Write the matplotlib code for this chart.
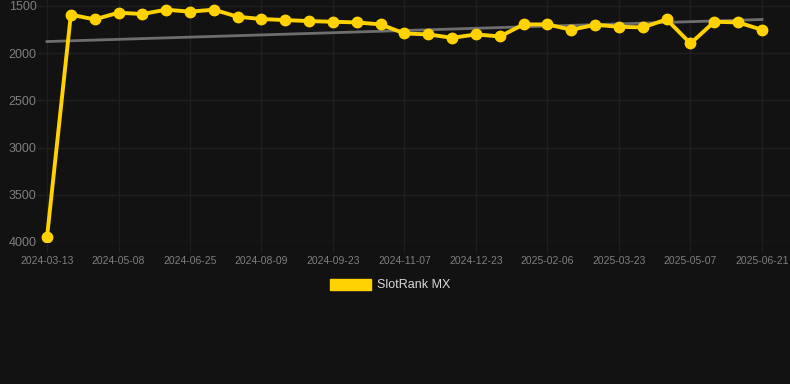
import numpy as np
import matplotlib
matplotlib.use('Agg')
import matplotlib.pyplot as plt
from matplotlib.patches import Patch

plt.rcParams['font.family'] = ['Liberation Sans', 'DejaVu Sans']

dates = ['2024-03-13', '2024-05-08', '2024-06-25', '2024-08-09', '2024-09-23',
         '2024-11-07', '2024-12-23', '2025-02-06', '2025-03-23', '2025-05-07',
         '2025-06-21']
rank = [3950, 1592, 1642, 1571, 1585, 1539, 1560, 1539, 1614, 1638, 1649,
        1660, 1667, 1674, 1695, 1791, 1801, 1837, 1801, 1823, 1695, 1695,
        1752, 1699, 1720, 1727, 1642, 1897, 1667, 1674, 1752]
label = 'SlotRank MX'

bg = '#121212'
yellow = '#FFD200'
grid = '#1f1f1f'

x = np.arange(len(rank))
slope, icpt = np.polyfit(x, rank, 1)

W, H = 790, 384
fig = plt.figure(figsize=(W / 100, H / 100), dpi=100, facecolor=bg)
# axes box in pixels: left 38, right 790, top 0, bottom 242
ax = fig.add_axes([38 / W, 1 - 242 / H, (790 - 38) / W, 242 / H], facecolor=bg)

step = 23.833
ax.set_xlim(-9 / step, 30 + 28 / step)
ax.set_ylim(4000, 1500 - 6 * 2500 / 236)

ax.plot(x, slope * x + icpt, color='#6e6e6e', lw=2, zorder=2)
ax.plot(x, rank, color=yellow, lw=2.8, marker='o', ms=7.5, zorder=3)

ax.set_yticks([1500, 2000, 2500, 3000, 3500, 4000])
ax.set_xticks(x[::3])
ax.set_xticklabels(dates)
ax.grid(True, color=grid, lw=1)
ax.tick_params(axis='y', colors='#7f7f7f', labelsize=9, length=0, pad=1)
ax.tick_params(axis='x', colors=grid, labelcolor='#7f7f7f', labelsize=7.5,
               length=8, pad=2)
for s in ax.spines.values():
    s.set_visible(False)
ax.axhline(4000, color='#2a2a2a', lw=1, zorder=1)

handle = Patch(facecolor=yellow, edgecolor=yellow)
leg = fig.legend([handle], [label], loc='center',
                 bbox_to_anchor=(390 / W, 1 - 285 / H),
                 frameon=False, fontsize=9, handlelength=3.3, handleheight=1.0,
                 handletextpad=0.5)
for t in leg.get_texts():
    t.set_color('#d8d8d8')

fig.savefig('out.png', dpi=100, facecolor=bg)
